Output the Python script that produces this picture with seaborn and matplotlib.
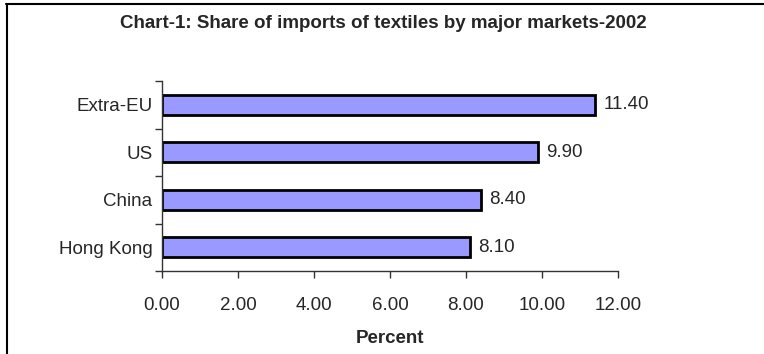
import matplotlib
matplotlib.use("Agg")
import matplotlib.pyplot as plt
import seaborn as sns
import pandas as pd
from matplotlib.lines import Line2D

categories = ["Extra-EU", "US", "China", "Hong Kong"]
values = [11.40, 9.90, 8.40, 8.10]
xticks = [0, 2, 4, 6, 8, 10, 12]

sns.set_style("white")
plt.rcParams['font.family'] = ['Liberation Sans', 'DejaVu Sans']

W, H = 764, 354
fig = plt.figure(figsize=(W / 100, H / 100), dpi=100)
ax = fig.add_axes([162 / W, 1 - 271 / H, (618 - 162) / W, (271 - 81) / H])

df = pd.DataFrame({"market": categories, "share": values})
sns.barplot(data=df, y="market", x="share", orient="h", color="#9999FF",
            saturation=1, edgecolor="black", linewidth=2, width=0.42, ax=ax)

FS = 13.5
ax.set_xlim(0, 12)
ax.set_ylim(3.5, -0.5)
ax.set_xticks(xticks)
ax.set_xticklabels([f"{v:.2f}" for v in xticks], fontsize=FS)
ax.set_yticks(range(len(categories)))
ax.set_yticklabels(categories, fontsize=FS)
ax.set_yticks([i - 0.5 for i in range(len(categories) + 1)], minor=True)
ax.tick_params(axis="y", which="major", length=0, pad=7)
ax.tick_params(axis="y", which="minor", length=5, width=1, color="#333333", direction="out", left=True)
ax.tick_params(axis="x", which="major", length=5, width=1, color="#333333", direction="out", bottom=True, pad=13.5)

for s in ["top", "right"]:
    ax.spines[s].set_visible(False)
for s in ["left", "bottom"]:
    ax.spines[s].set_color("#333333")
    ax.spines[s].set_linewidth(1)

ax.set_ylabel("")
ax.set_xlabel("Percent", fontsize=FS, fontweight="bold", labelpad=12)

for i, v in enumerate(values):
    ax.text(v + 0.22, i, f"{v:.2f}", va="center", ha="left", fontsize=FS)

fig.text(383 / W, 1 - 23 / H, "Chart-1: Share of imports of textiles by major markets-2002",
         ha="center", va="center", fontsize=FS, fontweight="bold")

fig.add_artist(Line2D([6.5 / W, 6.5 / W], [0, 1 - 3.5 / H], transform=fig.transFigure,
                      color="black", linewidth=1.5))
fig.add_artist(Line2D([6 / W, 1], [1 - 3.5 / H, 1 - 3.5 / H], transform=fig.transFigure,
                      color="black", linewidth=1.5))

fig.savefig("out.png", dpi=100)
